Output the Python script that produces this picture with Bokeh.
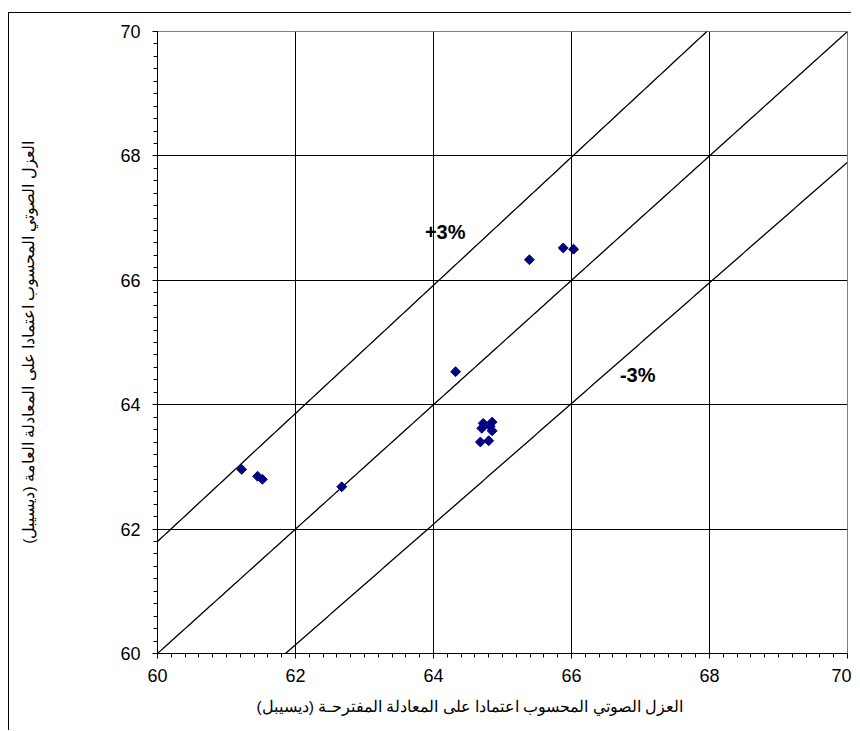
import numpy as np
from bokeh.plotting import figure
from bokeh.models import Range1d, SingleIntervalTicker, Label, Title
from bokeh.embed import file_html
from bokeh.resources import INLINE

# data
proposed = [61.22, 61.45, 61.52, 62.67, 64.32, 65.39, 65.88, 66.03,
            64.72, 64.85, 64.70, 64.82, 64.85, 64.68, 64.80]
general = [62.96, 62.85, 62.80, 62.68, 64.53, 66.33, 66.52, 66.50,
           63.70, 63.72, 63.62, 63.65, 63.58, 63.40, 63.42]
ref_factors = [1.03, 1.00, 0.97]
ref_labels = ["+3%", "-3%"]
ref_label_x = [64.17, 66.96]
ref_label_y = [66.77, 64.47]

x_title = "العزل الصوتي المحسوب اعتمادا على المعادلة المفترحـة (ديسيبل)"
y_title = "العزل الصوتي المحسوب اعتمادا على المعادلة العامة (ديسيبل)"

p = figure(width=843, height=718, output_backend="svg", toolbar_location=None,
           x_range=Range1d(60, 70), y_range=Range1d(60, 70),
           min_border_left=148, min_border_right=5, min_border_top=18,
           min_border_bottom=78,
           styles={"border-left": "1px solid #000", "border-top": "1px solid #000",
                   "margin-left": "8px", "margin-top": "12px"})
p.background_fill_color = "white"
p.outline_line_color = "#808080"

for ax in (p.xaxis[0], p.yaxis[0]):
    ax.ticker = SingleIntervalTicker(interval=2, num_minor_ticks=10)
    ax.axis_line_color = "black"
    ax.major_tick_line_color = "black"
    ax.minor_tick_line_color = "black"
    ax.major_tick_in = 0
    ax.major_tick_out = 5
    ax.minor_tick_in = 0
    ax.minor_tick_out = 4
    ax.major_label_text_font = "Liberation Sans"
    ax.major_label_text_font_size = "18px"
    ax.major_label_text_color = "black"

p.xaxis.major_label_standoff = 10
p.yaxis.major_label_standoff = 12

p.yaxis.axis_label = y_title
p.yaxis.axis_label_text_font = "Liberation Sans"
p.yaxis.axis_label_text_font_size = "15.5px"
p.yaxis.axis_label_text_font_style = "normal"
p.yaxis.axis_label_text_color = "black"
p.yaxis.axis_label_standoff = 80

p.add_layout(Title(text=x_title, align="left", offset=99, standoff=22,
                   text_font="Liberation Sans", text_font_size="15.5px",
                   text_font_style="normal", text_color="black"), "below")

for g in (p.xgrid[0], p.ygrid[0]):
    g.ticker = SingleIntervalTicker(interval=2)
    g.grid_line_color = "black"
    g.grid_line_width = 1

xs = np.linspace(60, 70, 201)
for f in ref_factors:
    p.line(xs, xs * f, line_color="black", line_width=1.3)

p.scatter(proposed, general, marker="square", size=7, angle=np.pi / 4,
          fill_color="#000080", line_color="#000080")

for t, lx, ly in zip(ref_labels, ref_label_x, ref_label_y):
    p.add_layout(Label(x=lx, y=ly, text=t, text_font="Liberation Sans",
                       text_font_size="20px", text_font_style="bold",
                       text_align="center", text_baseline="middle",
                       text_color="black"))

open("out.html", "w").write(file_html(p, INLINE))
